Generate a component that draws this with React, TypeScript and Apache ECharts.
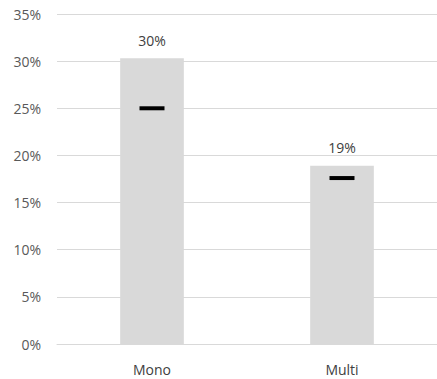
import React, { useEffect, useRef } from "react";
import * as echarts from "echarts";

const categories = ["Mono", "Multi"];
const barValues = [30.3, 18.9];
const markerValues = [25, 17.6];
const yTicks = [0, 5, 10, 15, 20, 25, 30, 35];

export default function App() {
  const ref = useRef<HTMLDivElement>(null);
  useEffect(() => {
    if (!ref.current) return;
    const chart = echarts.init(ref.current, null, { renderer: "svg" });
    const font = "'Open Sans', 'Liberation Sans', sans-serif";
    chart.setOption({
      animation: false,
      grid: { left: 57, right: 0, top: 14, bottom: 35, containLabel: false },
      xAxis: {
        type: "category",
        data: categories,
        axisLine: { show: true, lineStyle: { color: "#d9d9d9", width: 1 } },
        axisTick: { show: false },
        axisLabel: { color: "#404040", fontSize: 14, fontFamily: font, margin: 18 },
      },
      yAxis: {
        type: "value",
        min: yTicks[0],
        max: yTicks[yTicks.length - 1],
        interval: 5,
        axisLine: { show: false },
        axisTick: { show: false },
        splitLine: { lineStyle: { color: "#d9d9d9", width: 1 } },
        axisLabel: {
          color: "#595959",
          fontSize: 14,
          fontFamily: font,
          margin: 16,
          formatter: (v: number) => v + "%",
        },
      },
      series: [
        {
          type: "bar",
          data: barValues,
          barWidth: "33.5%",
          itemStyle: { color: "#d9d9d9" },
          label: {
            show: true,
            position: "top",
            distance: 11,
            color: "#404040",
            fontSize: 14,
            fontFamily: font,
            formatter: (p: any) => Math.round(p.value) + "%",
          },
          z: 1,
        },
        {
          type: "scatter",
          data: markerValues,
          symbol: "rect",
          symbolSize: [25, 4],
          itemStyle: { color: "#000000", opacity: 1 },
          z: 3,
        },
      ],
    });
    return () => chart.dispose();
  }, []);
  return (
    <div
      ref={ref}
      style={{ position: "fixed", left: 0, top: 0, width: 437, height: 379, background: "#ffffff" }}
    />
  );
}
